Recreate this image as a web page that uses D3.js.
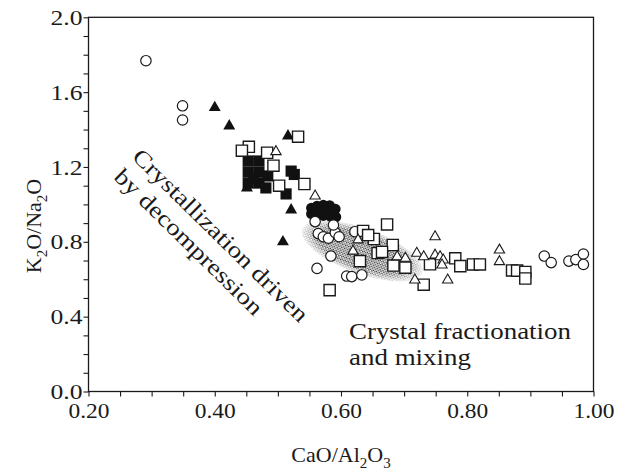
<!DOCTYPE html>
<html>
<head>
<meta charset="utf-8">
<script src="https://cdn.jsdelivr.net/npm/d3@7"></script>
<style>
  body { margin: 0; background: #fff; }
  text { font-family: "Liberation Serif", "Times New Roman", Times, "DejaVu Serif", serif; fill: #1a1a1a; }
</style>
</head>
<body>
<svg id="chart" width="623" height="475"></svg>
<script>
// values: [CaO/Al2O3, K2O/Na2O]
const openCircles = [
  [0.291, 1.768], [0.349, 1.527], [0.349, 1.451],
  [0.564, 0.844], [0.572, 0.827], [0.580, 0.819], [0.591, 0.849], [0.597, 0.827],
  [0.588, 0.890], [0.622, 0.854], [0.559, 0.908],
  [0.584, 0.724], [0.562, 0.658], [0.609, 0.617], [0.617, 0.614], [0.633, 0.623],
  [0.922, 0.724], [0.933, 0.689], [0.961, 0.697], [0.972, 0.705], [0.984, 0.735], [0.984, 0.679]
];
const filledCircles = [
  [0.553, 0.981], [0.562, 0.991], [0.572, 0.996], [0.582, 0.994], [0.591, 0.975],
  [0.553, 0.950], [0.562, 0.965], [0.575, 0.968], [0.586, 0.958],
  [0.560, 0.938], [0.572, 0.940], [0.583, 0.936], [0.592, 0.933]
];
const openSquares = [
  [0.532, 1.362], [0.454, 1.308], [0.443, 1.287], [0.483, 1.276], [0.493, 1.207],
  [0.502, 1.100], [0.542, 1.109], [0.582, 0.542],
  [0.635, 0.858], [0.652, 0.815], [0.643, 0.836], [0.673, 0.893], [0.682, 0.783],
  [0.658, 0.740], [0.665, 0.746], [0.630, 0.697], [0.683, 0.673], [0.702, 0.662],
  [0.741, 0.680], [0.731, 0.571], [0.781, 0.712], [0.789, 0.670], [0.809, 0.679],
  [0.820, 0.679], [0.871, 0.647], [0.879, 0.646], [0.892, 0.639], [0.892, 0.604]
];
const filledSquares = [
  [0.453, 1.232], [0.470, 1.232], [0.453, 1.173], [0.470, 1.173], [0.453, 1.114],
  [0.470, 1.114], [0.484, 1.152], [0.481, 1.088], [0.462, 1.140],
  [0.521, 1.178], [0.526, 1.160], [0.513, 1.056]
];
const openTriangles = [
  [0.497, 1.282], [0.559, 1.045], [0.627, 0.810], [0.619, 0.750], [0.689, 0.720],
  [0.702, 0.712], [0.720, 0.739], [0.731, 0.720], [0.749, 0.827], [0.749, 0.729],
  [0.757, 0.720], [0.762, 0.703], [0.760, 0.676], [0.717, 0.596], [0.769, 0.596],
  [0.851, 0.756], [0.851, 0.694]
];
const filledTriangles = [
  [0.400, 1.517], [0.423, 1.419], [0.516, 1.366], [0.521, 0.970], [0.508, 0.800], [0.451, 1.088]
];
// ends of the long axis of the stippled field
const fieldAxis = [[0.538, 0.868], [0.729, 0.634]];

const xTicks = [0.2, 0.4, 0.6, 0.8, 1.0];
const yTicks = [0.0, 0.4, 0.8, 1.2, 1.6, 2.0];
const annotations = [
  { lines: ["Crystal fractionation", "and mixing"], widths: [222, 122] },
  { lines: ["Crystallization driven", "by decompression"], widths: [236, 198] }
];

const svg = d3.select("#chart");
const m = { left: 88.5, right: 593.5, top: 17.3, bottom: 391.5 };

const x = d3.scaleLinear().domain([0.2, 1.0]).range([m.left, m.right]);
const y = d3.scaleLinear().domain([0, 2]).range([m.bottom, m.top]);

// stipple pattern + soft edge
const defs = svg.append("defs");
const pat = defs.append("pattern").attr("id", "dots")
  .attr("patternUnits", "userSpaceOnUse").attr("width", 3).attr("height", 3);
pat.append("circle").attr("cx", 0.75).attr("cy", 0.75).attr("r", 0.8).attr("fill", "#222");
pat.append("circle").attr("cx", 2.25).attr("cy", 2.25).attr("r", 0.8).attr("fill", "#222");
const grad = defs.append("radialGradient").attr("id", "fadeGrad");
grad.append("stop").attr("offset", "0.72").attr("stop-color", "#fff");
grad.append("stop").attr("offset", "1").attr("stop-color", "#222");

const p1 = [x(fieldAxis[0][0]), y(fieldAxis[0][1])];
const p2 = [x(fieldAxis[1][0]), y(fieldAxis[1][1])];
const fa = Math.hypot(p2[0] - p1[0], p2[1] - p1[1]) / 2;
const fb = 23;
const fAng = Math.atan2(p2[1] - p1[1], p2[0] - p1[0]) * 180 / Math.PI;
const fg = svg.append("g")
  .attr("transform", `translate(${(p1[0] + p2[0]) / 2},${(p1[1] + p2[1]) / 2}) rotate(${fAng})`);
defs.append("mask").attr("id", "fade")
  .append("ellipse").attr("rx", fa).attr("ry", fb).attr("fill", "url(#fadeGrad)");
fg.append("ellipse").attr("rx", fa).attr("ry", fb)
  .attr("fill", "url(#dots)").attr("mask", "url(#fade)");

// frame
svg.append("rect")
  .attr("x", m.left).attr("y", m.top)
  .attr("width", m.right - m.left).attr("height", m.bottom - m.top)
  .attr("fill", "none").attr("stroke", "#1a1a1a").attr("stroke-width", 1.3);

// axes
const xAxis = svg.append("g").attr("transform", `translate(0,${m.bottom})`)
  .call(d3.axisBottom(x).tickValues(d3.range(0.2, 1.001, 0.05)).tickSize(5)
    .tickFormat(d => xTicks.some(t => Math.abs(t - d) < 1e-6) ? d3.format(".2f")(d) : ""));
const yAxis = svg.append("g").attr("transform", `translate(${m.left},0)`)
  .call(d3.axisLeft(y).tickValues(d3.range(0, 2.001, 0.1)).tickSize(5)
    .tickFormat(d => yTicks.some(t => Math.abs(t - d) < 1e-6) ? d3.format(".1f")(d) : ""));
[xAxis, yAxis].forEach(a => {
  a.attr("font-family", null);
  a.select(".domain").remove();
  a.selectAll("line").attr("stroke", "#1a1a1a").attr("stroke-width", 1.1);
  a.selectAll("text").attr("font-size", 21).attr("fill", "#1a1a1a");
});
xAxis.selectAll("text").attr("dy", null).attr("y", 26)
  .filter(function () { return this.textContent; })
  .attr("textLength", 41).attr("lengthAdjust", "spacingAndGlyphs");
yAxis.selectAll("text").attr("x", -6).attr("dy", "0.34em")
  .filter(function () { return this.textContent; })
  .attr("textLength", 32).attr("lengthAdjust", "spacingAndGlyphs");

// axis titles
const xt = svg.append("text").attr("x", (m.left + m.right) / 2).attr("y", 462)
  .attr("text-anchor", "middle").attr("font-size", 22);
xt.append("tspan").text("CaO/Al");
xt.append("tspan").text("2").attr("font-size", 15).attr("dy", 6);
xt.append("tspan").text("O").attr("dy", -6);
xt.append("tspan").text("3").attr("font-size", 15).attr("dy", 6);

const yt = svg.append("text").attr("transform", `translate(41,226) rotate(-90)`)
  .attr("text-anchor", "middle").attr("font-size", 22);
yt.append("tspan").text("K");
yt.append("tspan").text("2").attr("font-size", 15).attr("dy", 6);
yt.append("tspan").text("O/Na").attr("dy", -6);
yt.append("tspan").text("2").attr("font-size", 15).attr("dy", 6);
yt.append("tspan").text("O").attr("dy", -6);

// markers
const sq = d3.symbol().type(d3.symbolSquare);
const tri = d3.symbol().type(d3.symbolTriangle);
const marks = svg.append("g");

marks.selectAll(".fsq").data(filledSquares).join("path")
  .attr("transform", d => `translate(${x(d[0])},${y(d[1])})`)
  .attr("d", sq.size(125)()).attr("fill", "#111");
marks.selectAll(".ftri").data(filledTriangles).join("path")
  .attr("transform", d => `translate(${x(d[0])},${y(d[1])})`)
  .attr("d", tri.size(62)()).attr("fill", "#111");
marks.selectAll(".fci").data(filledCircles).join("circle")
  .attr("cx", d => x(d[0])).attr("cy", d => y(d[1])).attr("r", 5.3).attr("fill", "#111");
marks.selectAll(".oci").data(openCircles).join("circle")
  .attr("cx", d => x(d[0])).attr("cy", d => y(d[1])).attr("r", 5.2)
  .attr("fill", "#fff").attr("stroke", "#1a1a1a").attr("stroke-width", 1.2);
marks.selectAll(".osq").data(openSquares).join("path")
  .attr("transform", d => `translate(${x(d[0])},${y(d[1])})`)
  .attr("d", sq.size(125)()).attr("fill", "#fff").attr("stroke", "#1a1a1a").attr("stroke-width", 1.4);
marks.selectAll(".otri").data(openTriangles).join("path")
  .attr("transform", d => `translate(${x(d[0])},${y(d[1])})`)
  .attr("d", tri.size(46)()).attr("fill", "#fff").attr("stroke", "#1a1a1a").attr("stroke-width", 1.1);

// annotations
const fs = 23;
svg.append("text").attr("font-size", fs).attr("x", 349).attr("y", 339)
  .attr("textLength", annotations[0].widths[0]).attr("lengthAdjust", "spacingAndGlyphs")
  .text(annotations[0].lines[0]);
svg.append("text").attr("font-size", fs).attr("x", 349).attr("y", 365)
  .attr("textLength", annotations[0].widths[1]).attr("lengthAdjust", "spacingAndGlyphs")
  .text(annotations[0].lines[1]);

const a2 = svg.append("g").attr("transform", "translate(131,158) rotate(44.5)");
a2.append("text").attr("font-size", fs).attr("x", 0).attr("y", 0)
  .attr("textLength", annotations[1].widths[0]).attr("lengthAdjust", "spacingAndGlyphs")
  .text(annotations[1].lines[0]);
a2.append("text").attr("font-size", fs).attr("x", 1).attr("y", 27)
  .attr("textLength", annotations[1].widths[1]).attr("lengthAdjust", "spacingAndGlyphs")
  .text(annotations[1].lines[1]);
</script>
</body>
</html>
